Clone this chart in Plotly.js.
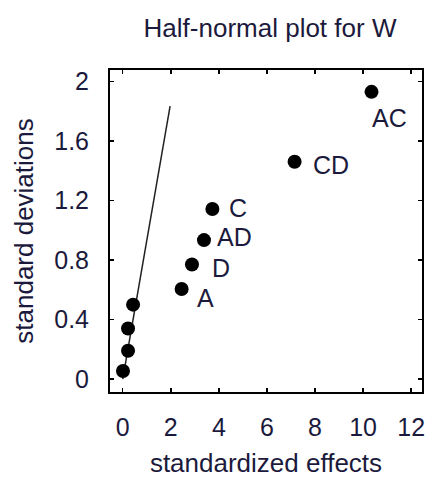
<!DOCTYPE html>
<html>
<head>
<meta charset="utf-8">
<script src="https://cdn.plot.ly/plotly-3.0.1.min.js"></script>
<style>
  html, body { margin: 0; padding: 0; background: #ffffff; }
  #chart { width: 425px; height: 480px; }
</style>
</head>
<body>
<div id="chart"></div>
<script>
// Half-normal plot: standardized effects against half-normal quantiles
const effects    = [0.01, 0.22, 0.22, 0.43, 2.45, 2.88, 3.38, 3.73, 7.15, 10.35];
const halfNormal = [0.054, 0.19, 0.34, 0.50, 0.605, 0.77, 0.934, 1.143, 1.46, 1.93];
const effectLabels = ['', '', '', '', 'A', 'D', 'AD', 'C', 'CD', 'AC'];

// Reference line through the origin
const refLineX = [0, 1.97];
const refLineY = [0, 1.835];

const xTicks = [0, 2, 4, 6, 8, 10, 12];
const yTicks = [0, 0.4, 0.8, 1.2, 1.6, 2];
const yTickText = ['0', '0.4', '0.8', '1.2', '1.6', '2'];

const textColor = '#1c1a3c';
const fontFamily = 'Liberation Sans, Arial, sans-serif';

// label offsets in pixels (dx right, dy up)
const labelShift = {
  'A':  [13, -9],
  'D':  [18, -4],
  'AD': [11, 3],
  'C':  [15, 1],
  'CD': [16, -3],
  'AC': [-2, -26]
};

const traces = [
  {
    x: refLineX, y: refLineY, mode: 'lines', type: 'scatter',
    line: { color: '#222222', width: 1.5 }, hoverinfo: 'skip'
  },
  {
    x: effects, y: halfNormal, mode: 'markers', type: 'scatter',
    marker: { color: '#000000', size: 14, symbol: 'circle' }
  }
];

const annotations = [];
effectLabels.forEach((lab, i) => {
  if (!lab) return;
  const s = labelShift[lab] || [12, 0];
  annotations.push({
    x: effects[i], y: halfNormal[i], xref: 'x', yref: 'y',
    text: lab, showarrow: false, xanchor: 'left', yanchor: 'middle',
    xshift: s[0], yshift: s[1],
    font: { family: fontFamily, size: 25, color: textColor }
  });
});

const axisCommon = {
  showgrid: false, zeroline: false,
  showline: true, linecolor: '#000000', linewidth: 2, mirror: 'ticks',
  ticks: 'inside', ticklen: 4, tickwidth: 1.5, tickcolor: '#000000',
  ticklabeloverflow: 'allow',
  tickfont: { family: fontFamily, size: 25, color: textColor }
};

const layout = {
  width: 425, height: 480,
  margin: { l: 110, r: 3, t: 70, b: 88, pad: 0 },
  paper_bgcolor: '#ffffff', plot_bgcolor: '#ffffff',
  showlegend: false,
  title: {
    text: 'Half-normal plot for W',
    x: 270 / 425, xref: 'container', xanchor: 'center',
    y: 1 - 28 / 480, yref: 'container', yanchor: 'middle',
    font: { family: fontFamily, size: 26, color: textColor }
  },
  xaxis: Object.assign({}, axisCommon, {
    range: [-0.53, 12.45], tickvals: xTicks,
    ticklabelstandoff: 12,
    title: { text: 'standardized effects', standoff: 14,
             font: { family: fontFamily, size: 26, color: textColor } }
  }),
  yaxis: Object.assign({}, axisCommon, {
    range: [-0.087, 2.077], tickvals: yTicks, ticktext: yTickText,
    ticklabelstandoff: 14,
    title: { text: 'standard deviations', standoff: 13,
             font: { family: fontFamily, size: 26, color: textColor } }
  }),
  annotations: annotations
};

Plotly.newPlot('chart', traces, layout, { staticPlot: true, displayModeBar: false });
</script>
</body>
</html>
